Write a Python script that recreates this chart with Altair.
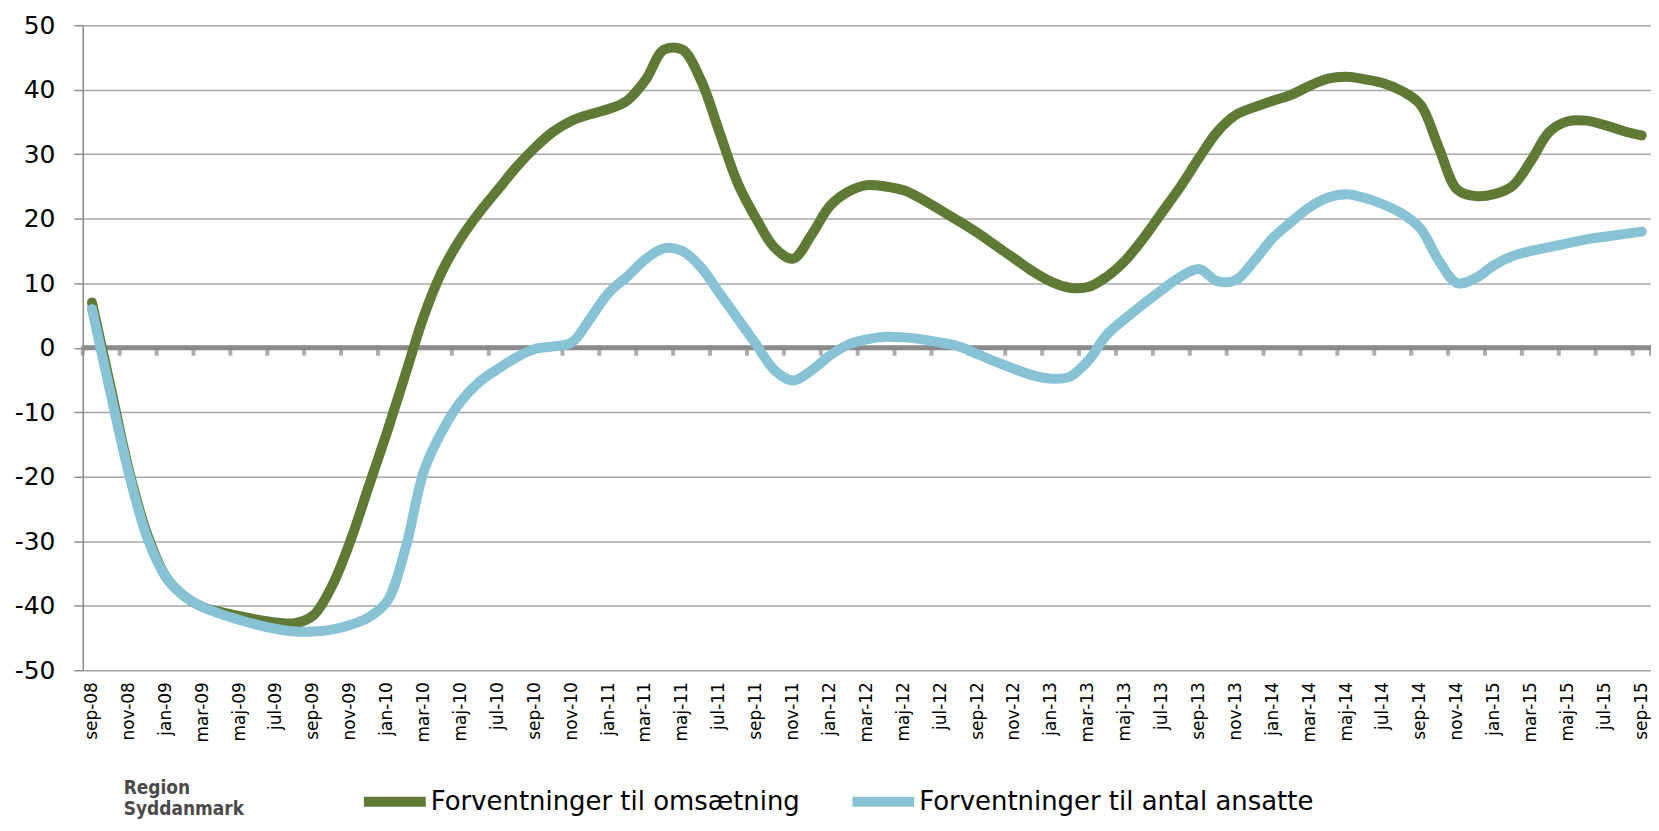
import json
import altair as alt
import pandas as pd

# x-axis tick labels (every second month, sep-08 .. sep-15)
month_labels = [
    "sep-08", "nov-08", "jan-09", "mar-09", "maj-09", "jul-09", "sep-09", "nov-09",
    "jan-10", "mar-10", "maj-10", "jul-10", "sep-10", "nov-10",
    "jan-11", "mar-11", "maj-11", "jul-11", "sep-11", "nov-11",
    "jan-12", "mar-12", "maj-12", "jul-12", "sep-12", "nov-12",
    "jan-13", "mar-13", "maj-13", "jul-13", "sep-13", "nov-13",
    "jan-14", "mar-14", "maj-14", "jul-14", "sep-14", "nov-14",
    "jan-15", "mar-15", "maj-15", "jul-15", "sep-15",
]

# monthly values, month index 0 = sep-08 ... 84 = sep-15
omsaetning = [
    7, -6, -19, -29, -35.5, -38.5, -40.2, -41, -41.6, -42.2,
    -42.6, -42.7, -41.5, -37, -30, -21.5, -13, -4, 5, 12,
    17, 21, 24.5, 28, 31, 33.5, 35.2, 36.2, 37, 38.3,
    41.5, 46.2, 46.2, 41.5, 33.5, 25.5, 20, 15.5, 13.8, 17.5,
    22, 24.2, 25.2, 25, 24.4, 23, 21.3, 19.6, 17.8, 15.8,
    13.8, 11.8, 10.2, 9.3, 9.4, 11, 13.5, 17, 21, 25,
    29.4, 33.5, 36.1, 37.3, 38.3, 39.2, 40.6, 41.7, 42, 41.6,
    41, 39.8, 37.7, 31, 24.5, 23.5, 23.8, 25.1, 29, 33.5,
    35.1, 35.2, 34.5, 33.6, 32.9,
]
ansatte = [
    6, -7, -19.5, -29.5, -35.5, -38.5, -40.2, -41.3, -42.2, -43,
    -43.6, -44, -44, -43.7, -43, -41.8, -39.3, -31, -19, -12.8,
    -8.3, -5.3, -3.3, -1.5, -0.2, 0.2, 0.8, 4.5, 8.5, 11,
    13.7, 15.4, 15, 12.5, 8.5, 4.5, 0.5, -3.5, -5.1, -3.5,
    -1.2, 0.5, 1.3, 1.7, 1.6, 1.3, 0.8, 0.2, -1, -2.2,
    -3.3, -4.3, -4.8, -4.5, -2, 2, 4.5, 6.8, 9, 11,
    12.2, 10.3, 10.5, 13.5, 17, 19.5, 21.8, 23.3, 23.8, 23.2,
    22.2, 20.8, 18.5, 13.5, 10, 10.8, 12.8, 14.2, 15, 15.6,
    16.2, 16.8, 17.2, 17.6, 18,
]

series_names = ["Forventninger til omsætning", "Forventninger til antal ansatte"]
series_colors = ["#5e7a35", "#87c3d5"]

rows = []
for i, name in enumerate(series_names):
    vals = omsaetning if i == 0 else ansatte
    for m, v in enumerate(vals):
        rows.append({"m": m, "value": v, "series": name, "order": i})
df = pd.DataFrame(rows)

label_positions = list(range(0, 2 * len(month_labels), 2))
label_df = pd.DataFrame({"m": label_positions, "label": month_labels})
tick_df = pd.DataFrame({"b": [p - 0.5 for p in label_positions] + [label_positions[-1] + 0.5],
                        "zero": 0})
zero_df = pd.DataFrame({"value": [0]})

FONT = "DejaVu Sans"
W, H = 1573, 647

x_scale = alt.Scale(domain=[-0.5, 84.5], nice=False, zero=False)
y_scale = alt.Scale(domain=[-50, 50], nice=False)

x_axis = alt.Axis(labels=False, ticks=False, domain=False, grid=False, title=None)
y_axis = alt.Axis(
    values=list(range(-50, 51, 10)), labelExpr="'' + datum.value",
    labelFont=FONT, labelFontSize=25,
    labelColor="#000000", tickSize=9, tickColor="#8c8c8c", tickWidth=1.5,
    labelPadding=19, domain=True, domainColor="#8c8c8c", domainWidth=1.5,
    grid=True, gridColor="#a8a8a8", gridWidth=1.5, title=None,
)

zero_line = alt.Chart(zero_df).mark_rule(color="#8a8a8a", strokeWidth=5).encode(
    y=alt.Y("value:Q", scale=y_scale, axis=y_axis)
)

zero_ticks = alt.Chart(tick_df).mark_tick(
    orient="vertical", size=10, thickness=4, color="#8a8a8a", yOffset=3
).encode(
    x=alt.X("b:Q", scale=x_scale, axis=x_axis),
    y=alt.Y("zero:Q", scale=y_scale, axis=y_axis),
)

x_labels = alt.Chart(label_df).mark_text(
    angle=270, align="right", baseline="middle", font=FONT, fontSize=17, color="#000000"
).encode(
    x=alt.X("m:Q", scale=x_scale, axis=x_axis),
    y=alt.value(H + 12),
    text="label:N",
)

lines = alt.Chart(df).mark_line(
    strokeWidth=10, strokeCap="round", strokeJoin="round", interpolate="catmull-rom"
).encode(
    x=alt.X("m:Q", scale=x_scale, axis=x_axis),
    y=alt.Y("value:Q", scale=y_scale, axis=y_axis),
    color=alt.Color("series:N", scale=alt.Scale(domain=series_names, range=series_colors),
                    legend=alt.Legend(
                        title=None, orient="none", direction="horizontal",
                        legendX=277, legendY=743, symbolType="stroke",
                        symbolSize=3844, symbolStrokeWidth=10, labelFont=FONT,
                        labelFontSize=26, labelColor="#000000", labelOffset=0,
                        labelLimit=0, columnPadding=32, padding=0,
                    )),
    order=alt.Order("order:Q"),
    detail="series:N",
)

logo1 = alt.Chart(zero_df).mark_text(
    text="Region", font="DejaVu Sans Condensed", fontWeight="bold", fontSize=19,
    color="#4a4a4a", align="left", baseline="alphabetic"
).encode(x=alt.value(41), y=alt.value(771))
logo2 = alt.Chart(zero_df).mark_text(
    text="Syddanmark", font="DejaVu Sans Condensed", fontWeight="bold", fontSize=19,
    color="#4a4a4a", align="left", baseline="alphabetic"
).encode(x=alt.value(41), y=alt.value(792))

chart = alt.layer(zero_line, zero_ticks, lines, x_labels, logo1, logo2).properties(
    width=W, height=H,
    autosize=alt.AutoSizeParams(type="none"),
    padding={"left": 75, "top": 16, "right": 0, "bottom": 148},
).configure_view(stroke=None).configure(background="white")

chart.save("out.html", embed_options={"renderer": "svg", "actions": False})
